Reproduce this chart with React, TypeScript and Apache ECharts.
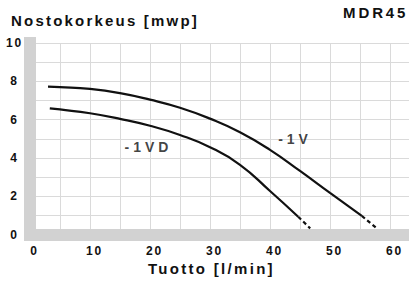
import React, { useEffect, useRef } from "react";
import * as echarts from "echarts";

// Curve -1V (solid part, then dashed tail)
const flowV = [3, 5, 10, 15, 20, 25, 30, 35, 40, 45, 50, 55.3];
const headV = [7.72, 7.7, 7.6, 7.38, 7.04, 6.62, 6.05, 5.34, 4.42, 3.32, 2.17, 0.97];
const flowVTail = [55.3, 57.8];
const headVTail = [0.97, 0.32];

// Curve -1VD
const flowVD = [3.3, 5, 10, 15, 20, 25, 30, 35, 40, 44.7];
const headVD = [6.59, 6.53, 6.33, 6.04, 5.68, 5.2, 4.56, 3.64, 2.27, 0.93];
const flowVDTail = [44.7, 46.7];
const headVDTail = [0.93, 0.32];

// Curve labels (text, flow, head)
const curveLabels = ["-1VD", "-1V"];
const labelFlow = [19.75, 44.17];
const labelHead = [4.55, 4.97];

const yTitle = "Nostokorkeus [mwp]";
const xTitle = "Tuotto [l/min]";
const modelName = "MDR45";

const FONT = "'Liberation Sans', Arial, Helvetica, sans-serif";
const TXT = "#111111";

const spacing: Record<string, number> = {
  [yTitle]: 2.2,
  [xTitle]: 2.3,
  [modelName]: 2.9,
  "-1VD": 4,
  "-1V": 4,
};

const zip = (xs: number[], ys: number[]) => xs.map((x, i) => [x, ys[i]]);

export default function App() {
  const ref = useRef<HTMLDivElement>(null);
  useEffect(() => {
    if (!ref.current) return;
    const chart = echarts.init(ref.current, null, { renderer: "svg" });
    const lineBase = {
      type: "line" as const,
      showSymbol: false,
      symbol: "none",
      smooth: 0.5,
      z: 3,
    };
    chart.setOption({
      animation: false,
      title: [
        { text: yTitle, left: 11, top: 13, padding: 0, textStyle: { fontSize: 15, fontWeight: "bold", fontFamily: FONT, color: TXT } },
        { text: modelName, left: 343, top: 5, padding: 0, textStyle: { fontSize: 15, fontWeight: "bold", fontFamily: FONT, color: TXT } },
        { text: xTitle, left: 148, top: 261, padding: 0, textStyle: { fontSize: 15, fontWeight: "bold", fontFamily: FONT, color: TXT } },
      ],
      grid: { left: 30, right: -11, top: 43, bottom: 49.5, outerBoundsMode: "none", containLabel: false },
      xAxis: {
        type: "value",
        min: 0,
        max: 65,
        interval: 5,
        axisLine: { lineStyle: { color: "#d2d2d2", width: 12, cap: "square" } },
        axisTick: { show: false },
        splitLine: { lineStyle: { color: "#dadada", width: 1 } },
        axisLabel: {
          formatter: (v: number) => (v % 10 === 0 && v <= 60 ? String(v) : ""),
          margin: 10,
          fontSize: 12,
          fontWeight: "bold",
          fontFamily: FONT,
          color: TXT,
          padding: [0, 0, 0, 9],
          showMaxLabel: false,
        },
      },
      yAxis: {
        type: "value",
        min: 0,
        max: 10,
        interval: 1,
        axisLine: { show: true, lineStyle: { color: "#d2d2d2", width: 12, cap: "square" } },
        axisTick: { show: false },
        splitLine: { lineStyle: { color: "#dadada", width: 1 } },
        axisLabel: {
          formatter: (v: number) => (v % 2 === 0 ? String(v) : ""),
          margin: 15.5,
          align: "center",
          fontSize: 12,
          fontWeight: "bold",
          fontFamily: FONT,
          color: TXT,
          padding: [0, 0, 4, 0],
        },
      },
      series: [
        { ...lineBase, name: "-1V", data: zip(flowV, headV), lineStyle: { color: TXT, width: 2.2 } },
        { ...lineBase, smooth: false, name: "-1V tail", data: zip(flowVTail, headVTail), lineStyle: { color: TXT, width: 2.2, type: [4, 3] } },
        { ...lineBase, name: "-1VD", data: zip(flowVD, headVD), lineStyle: { color: TXT, width: 2.2 } },
        { ...lineBase, smooth: false, name: "-1VD tail", data: zip(flowVDTail, headVDTail), lineStyle: { color: TXT, width: 2.2, type: [4, 3] } },
        {
          type: "scatter",
          symbolSize: 0,
          z: 4,
          data: curveLabels.map((t, i) => ({ value: [labelFlow[i], labelHead[i]], name: t })),
          label: {
            show: true,
            position: "inside",
            formatter: (p: any) => p.name,
            fontSize: 14,
            fontWeight: "bold",
            fontFamily: FONT,
            color: TXT,
          },
        },
      ],
    });
    const applySpacing = () => {
      if (!ref.current) return;
      ref.current.querySelectorAll("text").forEach((t) => {
        const s = (t.textContent || "").trim();
        const ls = spacing[s] ?? (/^\d+$/.test(s) ? 1.8 : 0);
        if (ls) t.setAttribute("letter-spacing", String(ls));
      });
    };
    applySpacing();
    chart.on("finished", applySpacing);
    const timer = setTimeout(applySpacing, 50);
    return () => {
      clearTimeout(timer);
      chart.dispose();
    };
  }, []);
  return (
    <div
      ref={ref}
      style={{ position: "absolute", left: 0, top: 0, width: 409, height: 284, background: "#fff" }}
    />
  );
}
